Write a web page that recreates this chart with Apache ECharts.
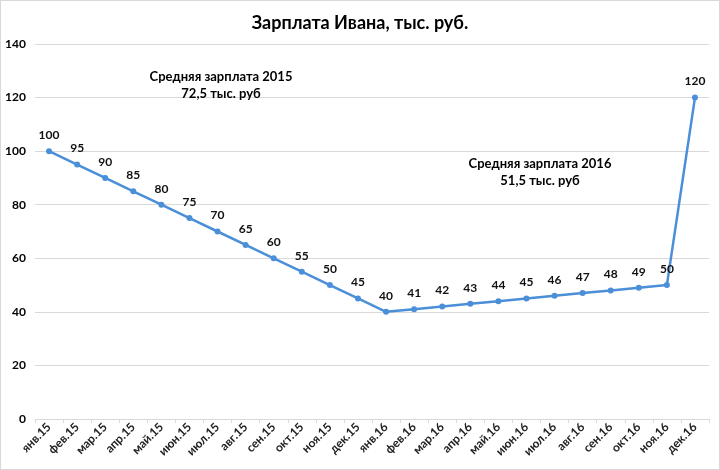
<!DOCTYPE html>
<html><head><meta charset="utf-8">
<script src="https://cdn.jsdelivr.net/npm/echarts@6/dist/echarts.min.js"></script>
<style>html,body{margin:0;padding:0;background:#fff}#c{width:718px;height:468px;border:1px solid #d9d9d9}</style>
</head><body><div id="c"></div>
<script>
const categories = ['янв.15','фев.15','мар.15','апр.15','май.15','июн.15','июл.15','авг.15','сен.15','окт.15','ноя.15','дек.15',
  'янв.16','фев.16','мар.16','апр.16','май.16','июн.16','июл.16','авг.16','сен.16','окт.16','ноя.16','дек.16'];
const salary = [100,95,90,85,80,75,70,65,60,55,50,45,40,41,42,43,44,45,46,47,48,49,50,120];
const yTicks = [0,20,40,60,80,100,120,140];
const notes = [
  {lines:['Средняя зарплата 2015','72,5 тыс. руб'], x:220, y:67},
  {lines:['Средняя зарплата 2016','51,5 тыс. руб'], x:539, y:154}
];
const font = 'Lato, "Open Sans", sans-serif';
const chart = echarts.init(document.getElementById('c'));
chart.setOption({
  animation:false,
  title:{text:'Зарплата Ивана, тыс. руб.', left:'center', top:8,
    textStyle:{fontFamily:font, fontSize:18, fontWeight:'bold', color:'#000'}},
  grid:{left:34, right:10, top:43, bottom:50},
  xAxis:{type:'category', data:categories, boundaryGap:true,
    axisLine:{lineStyle:{color:'#d9d9d9'}},
    axisTick:{show:true, length:4, lineStyle:{color:'#d9d9d9'}},
    axisLabel:{rotate:45, interval:0, fontFamily:font, fontSize:12, fontWeight:'bold', color:'#222', margin:6}},
  yAxis:{type:'value', min:yTicks[0], max:yTicks[yTicks.length-1], interval:20,
    axisLine:{show:false}, axisTick:{show:false},
    splitLine:{lineStyle:{color:'#d9d9d9'}},
    axisLabel:{fontFamily:font, fontSize:12, fontWeight:'bold', color:'#000', margin:9}},
  series:[{type:'line', data:salary, symbol:'circle', symbolSize:6,
    lineStyle:{color:'#4a8fd8', width:2.5}, itemStyle:{color:'#4a8fd8'},
    label:{show:true, position:'top', distance:7, fontFamily:font, fontSize:12, fontWeight:'bold', color:'#111'}}],
  graphic: notes.map(n => ({type:'text', z:10,
    style:{text:n.lines.join('\n'), x:0, y:0, textAlign:'center', fontFamily:font, fontSize:13, fontWeight:'bold', fill:'#000', lineHeight:17.5},
    position:[n.x, n.y]}))
});
</script></body></html>
